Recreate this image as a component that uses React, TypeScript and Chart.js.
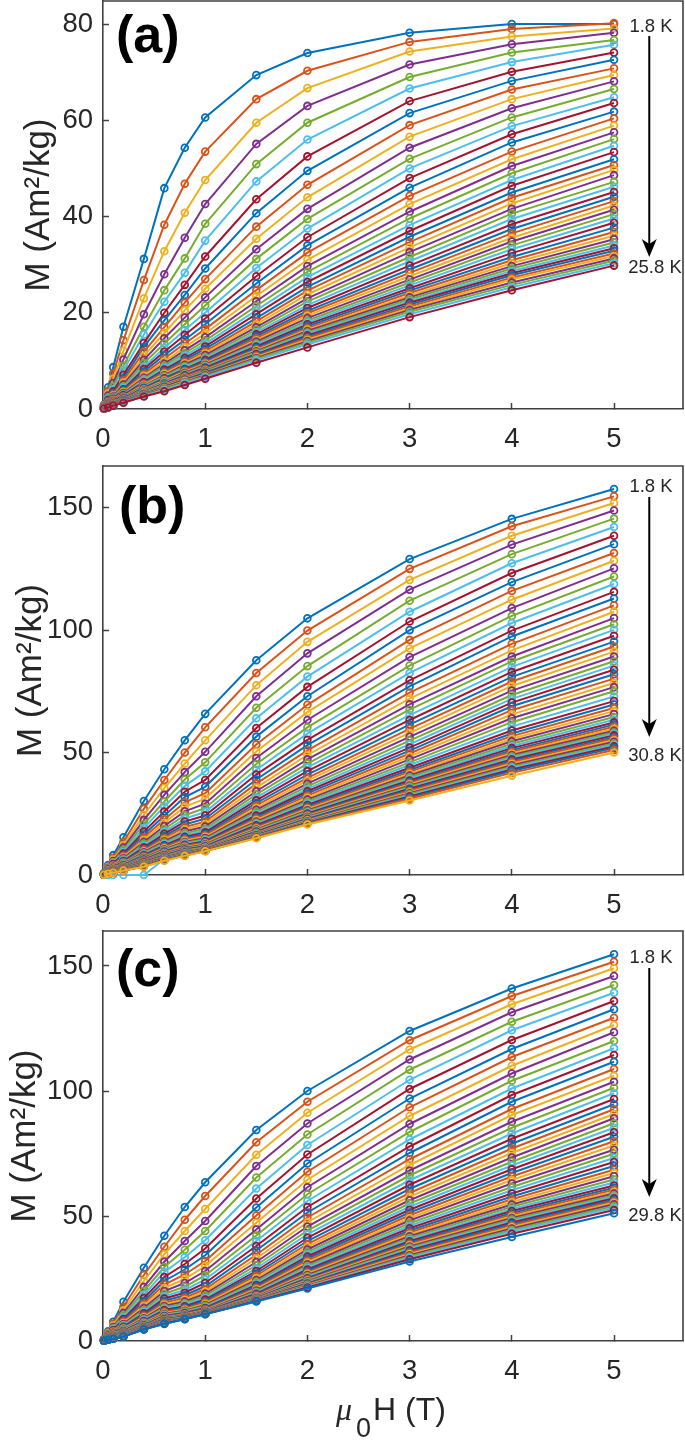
import React, { useEffect, useRef } from "react";
import { Chart, registerables } from "chart.js";

Chart.register(...registerables);

const fields = [0.01, 0.05, 0.1, 0.2, 0.4, 0.6, 0.8, 1, 1.5, 2, 3, 4, 5];
const xTickValues = [0, 1, 2, 3, 4, 5];
const yTicksA = [0, 20, 40, 60, 80];
const yTicksB = [0, 50, 100, 150];
const yTicksC = [0, 50, 100, 150];
const palette = ["#0072BD", "#D95319", "#EDB120", "#7E2F8E", "#77AC30", "#4DBEEE", "#A2142F"];

// Panel (a): 49 temperatures, one array per field, 7 per row
const A_H001 = [.9,.8,.7,.6,.5,.4,.4,
.4,.3,.3,.3,.3,.3,.2,
.2,.2,.2,.2,.2,.2,.2,
.2,.2,.1,.1,.1,.1,.1,
.1,.1,.1,.1,.1,.1,.1,
.1,.1,.1,.1,.1,.1,.1,
.1,.1,.1,.1,.1,.1,.1];
const A_H005 = [4.5,3.8,3.2,2.8,2.4,2.1,1.9,
1.7,1.5,1.4,1.3,1.2,1.1,1.1,
1.0,1.0,.9,.9,.8,.8,.7,
.7,.7,.6,.6,.6,.6,.6,
.5,.5,.5,.5,.5,.5,.5,
.4,.4,.4,.4,.4,.4,.4,
.4,.4,.4,.4,.3,.3,.3];
const A_H01 = [8.7,7.4,6.3,5.4,4.7,4.1,3.7,
3.3,3.0,2.8,2.6,2.4,2.2,2.1,
2.0,1.9,1.8,1.7,1.6,1.5,1.5,
1.4,1.3,1.3,1.2,1.2,1.1,1.1,
1.1,1.0,1.0,1.0,1.0,.9,.9,
.9,.9,.9,.8,.8,.8,.8,
.8,.8,.7,.7,.7,.7,.7];
const A_H02 = [17.1,14.3,12.1,10.3,9.0,8.0,7.1,
6.4,5.9,5.5,5.1,4.7,4.4,4.1,
3.9,3.7,3.5,3.3,3.1,3.0,2.9,
2.7,2.6,2.5,2.4,2.3,2.3,2.2,
2.1,2.1,2.0,2.0,1.9,1.9,1.8,
1.8,1.7,1.7,1.7,1.6,1.6,1.6,
1.5,1.5,1.5,1.5,1.4,1.4,1.3];
const A_H04 = [31.2,26.8,23.0,19.7,17.1,15.5,13.7,
12.9,11.9,11.0,10.2,9.5,8.8,8.3,
7.8,7.3,6.9,6.5,6.2,5.9,5.6,
5.4,5.2,5.0,4.8,4.7,4.5,4.4,
4.3,4.1,4.0,3.9,3.8,3.7,3.6,
3.5,3.5,3.4,3.3,3.3,3.2,3.1,
3.1,3.0,2.9,2.9,2.8,2.7,2.6];
const A_H06 = [45.9,38.3,32.8,28.0,24.7,22.3,20.0,
18.4,17.0,15.8,14.7,13.6,12.7,11.9,
11.2,10.5,9.9,9.4,9.0,8.6,8.2,
7.9,7.6,7.3,7.0,6.8,6.6,6.4,
6.2,6.0,5.9,5.7,5.6,5.5,5.3,
5.2,5.1,5.0,4.9,4.8,4.7,4.6,
4.5,4.4,4.3,4.2,4.1,3.9,3.7];
const A_H08 = [54.3,46.8,40.8,35.6,31.3,28.3,25.8,
23.7,22.1,20.5,19.0,17.6,16.4,15.4,
14.4,13.6,12.8,12.2,11.6,11.1,10.6,
10.2,9.8,9.5,9.2,8.9,8.6,8.3,
8.1,7.9,7.7,7.5,7.3,7.1,7.0,
6.8,6.7,6.5,6.4,6.3,6.2,6.1,
6.0,5.9,5.8,5.6,5.5,5.3,5.0];
const A_H1 = [60.6,53.5,47.6,42.6,38.5,35.0,31.7,
29.2,27.0,25.0,23.2,21.5,20.0,18.8,
17.6,16.6,15.7,14.9,14.2,13.6,13.0,
12.5,12.0,11.6,11.2,10.8,10.5,10.2,
9.9,9.6,9.4,9.2,9.0,8.8,8.6,
8.4,8.2,8.0,7.9,7.8,7.6,7.5,
7.4,7.2,7.1,7.0,6.8,6.6,6.3];
const A_H15 = [69.4,64.4,59.5,55.1,50.9,47.3,43.6,
40.7,37.9,35.4,33.2,31.2,29.3,27.6,
26.1,24.7,23.5,22.4,21.4,20.5,19.7,
18.9,18.2,17.6,17.0,16.5,16.0,15.5,
15.1,14.7,14.3,14.0,13.6,13.3,13.0,
12.7,12.4,12.2,12.0,11.8,11.6,11.4,
11.2,11.0,10.8,10.6,10.4,10.1,9.6];
const A_H2 = [74.0,70.3,66.7,63.0,59.5,56.0,52.5,
49.5,46.6,44.0,41.6,39.5,37.5,35.7,
34.0,32.5,31.0,29.7,28.5,27.4,26.4,
25.4,24.6,23.8,23.0,22.3,21.6,21.0,
20.4,19.9,19.4,18.9,18.4,18.0,17.6,
17.2,16.8,16.5,16.2,15.9,15.6,15.3,
15.0,14.7,14.4,14.1,13.8,13.4,12.8];
const A_H3 = [78.2,76.3,74.3,71.6,69.0,66.6,64.0,
61.5,59.0,56.6,54.3,52.0,50.0,48.0,
46.0,44.3,42.6,41.0,39.6,38.2,37.0,
35.8,34.7,33.6,32.6,31.6,30.7,29.8,
29.0,28.3,27.6,26.9,26.3,25.7,25.1,
24.6,24.1,23.6,23.2,22.8,22.4,22.1,
21.7,21.3,20.9,20.6,20.2,19.7,19.1];
const A_H4 = [80.0,79.0,77.4,75.8,74.1,72.1,70.1,
68.2,66.4,64.4,62.5,60.6,58.8,57.1,
55.4,53.5,51.9,50.5,49.0,47.6,46.4,
45.0,43.9,42.7,41.6,40.6,39.5,38.4,
37.4,36.5,35.6,34.8,34.0,33.2,32.4,
31.6,30.9,30.3,29.7,29.2,28.7,28.2,
27.8,27.3,26.9,26.3,25.8,25.3,24.7];
const A_H5 = [80.0,80.2,79.1,78.2,76.7,75.7,74.1,
72.6,70.8,69.4,68.1,66.5,64.8,63.6,
61.8,60.4,58.9,57.5,56.1,54.7,53.4,
51.9,50.7,49.7,48.6,47.2,46.2,45.1,
44.1,43.2,42.3,41.4,40.5,39.6,38.7,
37.7,36.8,36.0,35.3,34.6,34.0,33.4,
32.9,32.3,31.8,31.3,30.8,30.3,29.8];

// Panel (b): 59 temperatures
const B_H001 = [.8,.7,.6,.6,.5,.5,.5,
.4,.4,.4,.3,.3,.3,.3,
.3,.3,.3,.2,.2,.2,.2,
.2,.2,.2,.2,.2,.2,.2,
.2,.2,.1,.1,.1,.1,.1,
.1,.1,.1,.1,.1,.1,.1,
.1,.1,.1,.1,.1,.1,.1,
.1,.1,.1,.1,.1,0,.1,
.1,.1,.1];
const B_H005 = [4.1,3.5,3.2,2.9,2.6,2.4,2.3,
2.1,2.0,1.9,1.7,1.6,1.6,1.5,
1.4,1.3,1.3,1.2,1.1,1.1,1.0,
1.0,1.0,.9,.9,.9,.8,.8,
.8,.8,.7,.7,.7,.7,.7,
.7,.7,.6,.6,.6,.6,.6,
.6,.6,.6,.6,.5,.5,.5,
.5,.5,.5,.5,.5,0,.5,
.5,.5,.5];
const B_H01 = [8.1,7.0,6.3,5.7,5.2,4.8,4.5,
4.2,3.9,3.7,3.4,3.2,3.1,2.9,
2.7,2.6,2.5,2.3,2.2,2.1,2.0,
2.0,1.9,1.8,1.8,1.7,1.6,1.6,
1.5,1.5,1.4,1.4,1.4,1.3,1.3,
1.3,1.3,1.2,1.2,1.2,1.2,1.1,
1.1,1.1,1.1,1.1,1.0,1.0,1.0,
1.0,1.0,1.0,1.0,1.0,0,.9,
.9,.9,.9];
const B_H02 = [15.4,13.5,12.2,11.2,10.3,9.5,8.8,
8.2,7.7,7.2,6.8,6.4,6.0,5.7,
5.4,5.1,4.9,4.6,4.4,4.2,4.0,
3.9,3.7,3.6,3.5,3.3,3.2,3.1,
3.0,2.9,2.9,2.8,2.7,2.7,2.6,
2.5,2.5,2.4,2.4,2.3,2.3,2.2,
2.2,2.2,2.1,2.1,2.1,2.0,2.0,
2.0,2.0,1.9,1.9,1.9,0,1.9,
1.8,1.8,1.8];
const B_H04 = [30.2,27.0,24.5,22.5,20.8,19.2,17.7,
16.5,15.4,14.4,13.5,12.7,12.0,11.3,
10.7,10.2,9.7,9.3,8.9,8.5,8.1,
7.8,7.5,7.2,7.0,6.7,6.5,6.3,
6.1,5.9,5.7,5.6,5.4,5.3,5.2,
5.0,4.9,4.8,4.7,4.6,4.5,4.4,
4.3,4.2,4.2,4.1,4.0,4.0,3.9,
3.9,3.8,3.8,3.7,3.7,0,3.6,
3.5,3.5,3.4];
const B_H06 = [43.2,38.8,35.5,32.7,30.0,28.0,25.9,
24.2,22.7,21.3,20.0,18.8,17.7,16.8,
15.9,15.1,14.4,13.8,13.2,12.6,12.1,
11.7,11.3,10.9,10.5,10.2,9.9,9.6,
9.3,9.1,8.9,8.7,8.5,8.3,8.1,
7.9,7.8,7.6,7.5,7.4,7.3,7.2,
7.1,7.0,6.9,6.8,6.8,6.7,6.6,
6.6,6.5,6.4,6.4,6.3,6.5,6.2,
6.1,6.0,5.8];
const B_H08 = [55.0,50.0,45.5,42.0,39.0,36.3,34.0,
31.8,29.7,27.8,26.0,24.4,23.0,21.8,
20.6,19.6,18.7,17.8,17.0,16.3,15.6,
15.0,14.5,14.0,13.5,13.1,12.7,12.3,
12.0,11.7,11.4,11.1,10.8,10.6,10.4,
10.2,10.0,9.8,9.6,9.5,9.3,9.2,
9.1,9.0,8.9,8.8,8.7,8.6,8.5,
8.4,8.4,8.3,8.3,8.2,8.2,8.1,
8.1,8.0,7.8];
const B_H1 = [65.8,60.3,55.0,50.3,46.0,42.3,38.8,
36.0,33.4,31.2,29.1,27.3,25.7,24.3,
23.0,21.8,20.8,19.8,18.9,18.1,17.4,
16.7,16.1,15.6,15.1,14.6,14.2,13.8,
13.4,13.1,12.8,12.5,12.2,11.9,11.7,
11.5,11.3,11.1,10.9,10.8,10.7,10.6,
10.5,10.4,10.4,10.3,10.3,10.2,10.2,
10.1,10.1,10.0,10.0,9.9,9.9,9.9,
9.8,9.8,9.7];
const B_H15 = [87.7,82.5,77.5,73.0,68.3,64.0,60.0,
56.5,53.3,50.4,47.8,45.3,43.0,41.0,
39.0,37.3,35.7,34.2,32.9,31.6,30.5,
29.4,28.4,27.4,26.6,25.8,25.0,24.3,
23.6,23.0,22.4,21.8,21.3,20.8,20.3,
19.8,19.4,19.0,18.6,18.3,18.0,17.7,
17.4,17.2,17.0,16.8,16.6,16.4,16.2,
16.1,15.9,15.8,15.7,15.6,15.5,15.4,
15.3,15.2,15.0];
const B_H2 = [104.8,99.8,95.2,90.5,85.3,81.0,76.8,
73.0,69.5,66.5,63.3,60.3,57.7,55.2,
53.0,50.9,49.0,47.2,45.5,43.9,42.4,
41.0,39.7,38.5,37.3,36.2,35.2,34.2,
33.3,32.4,31.6,30.8,30.0,29.3,28.6,
28.0,27.4,26.9,26.4,25.9,25.5,25.1,
24.7,24.4,24.1,23.8,23.5,23.2,22.9,
22.7,22.4,22.2,21.9,21.7,21.5,21.3,
21.1,20.9,20.6];
const B_H3 = [129.0,125.0,120.5,116.5,112.0,107.5,103.5,
100.0,96.0,92.5,89.0,85.5,82.5,79.5,
77.0,74.5,72.0,69.7,67.5,65.3,63.3,
61.4,59.7,58.0,56.4,54.9,53.4,52.0,
50.8,49.6,48.4,47.2,46.0,44.9,43.8,
42.9,42.1,41.3,40.6,39.9,39.2,38.6,
38.0,37.5,37.0,36.5,36.1,35.6,35.2,
34.7,34.3,33.8,33.4,33.0,32.5,32.1,
31.6,31.1,30.4];
const B_H4 = [145.4,142.4,138.5,134.9,131.0,127.3,123.3,
119.6,116.0,112.4,109.0,105.8,102.9,99.8,
97.4,94.4,91.7,89.2,87.2,85.0,82.9,
80.9,79.0,77.2,75.3,73.5,71.9,70.4,
68.9,67.3,65.6,64.0,62.4,60.6,59.0,
57.8,56.7,55.6,54.6,53.6,52.7,51.8,
51.0,50.3,49.6,49.0,48.4,47.8,47.2,
46.6,46.0,45.4,44.8,44.2,43.7,43.1,
42.5,41.7,40.5];
const B_H5 = [157.6,154.6,151.9,148.8,145.5,142.1,138.5,
135.1,131.5,128.3,125.2,121.9,118.8,115.6,
112.9,110.1,107.5,104.9,102.4,100.1,97.7,
95.3,93.3,91.2,89.2,87.3,85.5,83.8,
82.0,80.2,78.4,76.7,75.0,72.9,71.0,
69.6,68.2,66.9,65.7,64.5,63.4,62.3,
61.4,60.5,59.7,58.9,58.2,57.6,57.0,
56.3,55.7,55.0,54.4,53.7,53.1,52.5,
51.8,51.0,50.0];

// Panel (c): 57 temperatures
const C_H001 = [.8,.7,.6,.6,.5,.5,.5,
.4,.4,.4,.3,.3,.3,.3,
.3,.3,.3,.2,.2,.2,.2,
.2,.2,.2,.2,.2,.2,.2,
.2,.2,.1,.1,.1,.1,.1,
.1,.1,.1,.1,.1,.1,.1,
.1,.1,.1,.1,.1,.1,.1,
.1,.1,.1,.1,.1,.1,.1,
.1];
const C_H005 = [3.9,3.4,3.1,2.8,2.6,2.4,2.2,
2.1,2.0,1.8,1.7,1.6,1.5,1.5,
1.4,1.3,1.3,1.2,1.1,1.1,1.0,
1.0,1.0,.9,.9,.9,.8,.8,
.8,.8,.7,.7,.7,.7,.7,
.7,.7,.6,.6,.6,.6,.6,
.6,.6,.6,.6,.5,.5,.5,
.5,.5,.5,.5,.5,.5,.5,
.5];
const C_H01 = [7.7,6.9,6.2,5.6,5.1,4.8,4.4,
4.1,3.9,3.6,3.4,3.2,3.0,2.9,
2.7,2.6,2.5,2.3,2.2,2.1,2.0,
2.0,1.9,1.8,1.8,1.7,1.6,1.6,
1.5,1.5,1.4,1.4,1.4,1.3,1.3,
1.3,1.3,1.2,1.2,1.2,1.2,1.1,
1.1,1.1,1.1,1.1,1.0,1.0,1.0,
1.0,1.0,1.0,1.0,1.0,.9,.9,
.9];
const C_H02 = [15.7,13.7,12.3,11.2,10.3,9.5,8.8,
8.2,7.7,7.2,6.8,6.4,6.0,5.7,
5.4,5.1,4.9,4.6,4.4,4.2,4.0,
3.9,3.7,3.6,3.5,3.3,3.2,3.1,
3.0,2.9,2.9,2.8,2.7,2.7,2.6,
2.5,2.5,2.4,2.4,2.3,2.3,2.2,
2.2,2.2,2.1,2.1,2.1,2.0,2.0,
2.0,2.0,1.9,1.9,1.9,1.9,1.8,
1.8];
const C_H04 = [29.3,26.4,24.0,21.7,20.0,18.5,17.2,
16.0,15.0,14.1,13.2,12.4,11.7,11.1,
10.5,10.0,9.5,9.1,8.7,8.4,8.0,
7.7,7.4,7.2,6.9,6.7,6.5,6.3,
6.2,6.0,5.9,5.8,5.7,5.6,5.5,
5.4,5.3,5.2,5.2,5.1,5.1,5.0,
5.0,5.0,4.9,4.9,4.9,4.9,4.8,
4.8,4.8,4.8,4.8,4.7,4.7,4.7,
4.6];
const C_H06 = [42.1,37.7,34.7,31.7,29.6,27.6,25.6,
24.0,22.6,21.2,20.0,18.9,17.9,17.0,
16.1,15.3,14.6,14.0,13.4,12.9,12.4,
12.0,11.6,11.2,10.9,10.6,10.3,10.0,
9.8,9.6,9.4,9.2,9.0,8.8,8.7,
8.5,8.4,8.3,8.2,8.1,8.0,7.9,
7.8,7.7,7.6,7.6,7.5,7.5,7.4,
7.3,7.3,7.2,7.2,7.1,7.1,7.0,
6.8];
const C_H08 = [53.6,48.5,44.0,40.0,36.5,33.5,30.8,
28.6,26.6,24.8,23.2,21.7,20.4,19.3,
18.3,17.3,16.5,15.8,15.1,14.5,13.9,
13.4,12.9,12.5,12.1,11.8,11.5,11.2,
10.9,10.7,10.5,10.3,10.1,9.9,9.8,
9.7,9.6,9.5,9.4,9.3,9.3,9.2,
9.2,9.1,9.1,9.1,9.0,9.0,9.0,
9.0,8.9,8.9,8.9,8.9,8.8,8.8,
8.7];
const C_H1 = [63.5,58.0,52.8,48.0,44.0,40.3,37.0,
34.3,32.0,30.0,28.0,26.2,24.6,23.2,
21.9,20.8,19.8,18.9,18.1,17.3,16.6,
16.0,15.4,14.9,14.4,14.0,13.6,13.2,
12.9,12.6,12.3,12.1,11.9,11.8,11.7,
11.6,11.5,11.4,11.4,11.3,11.3,11.2,
11.2,11.1,11.1,11.1,11.0,11.0,11.0,
10.9,10.9,10.9,10.9,10.8,10.8,10.8,
10.7];
const C_H15 = [84.4,79.5,74.5,70.0,65.4,61.0,57.0,
53.4,50.2,47.3,44.6,42.2,40.0,38.0,
36.2,34.5,33.0,31.6,30.3,29.1,28.0,
27.0,26.1,25.2,24.4,23.7,23.0,22.4,
21.8,21.2,20.7,20.2,19.7,19.3,18.9,
18.5,18.2,17.9,17.7,17.5,17.3,17.1,
17.0,16.9,16.8,16.7,16.6,16.5,16.4,
16.3,16.3,16.2,16.2,16.1,16.1,16.0,
15.8];
const C_H2 = [100.0,95.7,91.3,87.0,82.6,78.4,74.6,
71.0,67.7,64.5,61.5,58.7,56.0,53.6,
51.4,49.4,47.5,45.8,44.2,42.7,41.3,
40.0,38.8,37.7,36.6,35.6,34.7,33.8,
33.0,32.2,31.4,30.7,30.0,29.3,28.6,
28.0,27.4,26.9,26.4,25.9,25.5,25.1,
24.8,24.5,24.2,23.9,23.6,23.3,23.0,
22.8,22.6,22.3,22.1,21.9,21.7,21.4,
21.0];
const C_H3 = [124.0,120.3,116.6,112.6,108.5,104.5,100.8,
97.0,93.5,90.0,86.8,83.6,80.6,77.8,
75.2,72.7,70.4,68.2,66.2,64.3,62.5,
60.8,59.2,57.7,56.3,55.0,53.7,52.5,
51.4,50.3,49.2,48.2,47.1,46.1,45.1,
44.2,43.4,42.6,41.9,41.2,40.5,39.9,
39.3,38.8,38.3,37.8,37.3,36.8,36.3,
35.8,35.3,34.8,34.3,33.8,33.3,32.7,
31.8];
const C_H4 = [141.0,138.0,134.7,131.5,127.7,124.3,120.4,
116.8,113.6,110.1,107.0,104.1,101.0,98.4,
95.7,92.8,90.4,87.7,85.3,83.0,80.9,
78.9,77.0,75.2,73.4,71.7,70.2,68.7,
67.2,65.8,64.4,63.0,61.6,60.3,59.0,
57.8,56.7,55.6,54.6,53.7,52.8,52.0,
51.2,50.5,49.8,49.2,48.6,48.0,47.4,
46.8,46.2,45.6,45.0,44.4,43.8,42.9,
41.6];
const C_H5 = [154.7,151.7,149.1,146.0,142.4,139.3,136.0,
132.7,129.3,126.4,123.5,120.0,117.1,114.4,
111.7,108.8,106.1,103.7,101.3,99.1,96.8,
94.7,92.7,90.8,89.1,87.1,85.3,83.5,
81.7,79.9,78.2,76.5,74.9,73.2,71.6,
70.0,68.5,67.2,65.9,64.6,63.4,62.2,
61.3,60.5,59.7,59.0,58.3,57.7,57.1,
56.5,55.9,55.3,54.7,54.0,53.3,52.4,
51.1];

const columnsA = [A_H001, A_H005, A_H01, A_H02, A_H04, A_H06, A_H08, A_H1, A_H15, A_H2, A_H3, A_H4, A_H5];
const columnsB = [B_H001, B_H005, B_H01, B_H02, B_H04, B_H06, B_H08, B_H1, B_H15, B_H2, B_H3, B_H4, B_H5];
const columnsC = [C_H001, C_H005, C_H01, C_H02, C_H04, C_H06, C_H08, C_H1, C_H15, C_H2, C_H3, C_H4, C_H5];

const INK = "#262626";
const AXIS = "#404040";
const SANS = '"Liberation Sans", Arial, sans-serif';
const X_MAX = 5.675;

const panels = [
  { letter: "(a)", columns: columnsA, yTicks: yTicksA, yMax: 84.8, top: 0, height: 460, padTop: 1, axisH: 51,
    hot: "1.8 K", cold: "25.8 K", hotY: 32, coldY: 273, arrowTop: 36, arrowTip: 257, letterX: 116, letterY: 52, titlePad: 18, xLabel: false },
  { letter: "(b)", columns: columnsB, yTicks: yTicksB, yMax: 167, top: 460, height: 465, padTop: 6, axisH: 50,
    hot: "1.8 K", cold: "30.8 K", hotY: 32, coldY: 301, arrowTop: 37, arrowTip: 277, letterX: 119, letterY: 63, titlePad: 10.5, xLabel: false },
  { letter: "(c)", columns: columnsC, yTicks: yTicksC, yMax: 164, top: 925, height: 515, padTop: 6, axisH: 99,
    hot: "1.8 K", cold: "29.8 K", hotY: 38, coldY: 296, arrowTop: 43, arrowTip: 272, letterX: 116, letterY: 61, titlePad: 4.5, xLabel: true },
];

function Panel({ p }: { p: (typeof panels)[number] }) {
  const ref = useRef<HTMLCanvasElement>(null);
  useEffect(() => {
    const count = p.columns[0].length;
    const datasets = Array.from({ length: count }, (_, i) => {
      const color = palette[i % palette.length];
      return {
        label: "curve " + (i + 1),
        data: fields.map((h, j) => ({ x: h, y: p.columns[j][i] })),
        borderColor: color,
        backgroundColor: "transparent",
        borderWidth: 2,
        pointRadius: 3.4,
        pointBorderWidth: 1.8,
        pointBorderColor: color,
        pointBackgroundColor: "transparent",
        tension: 0,
        clip: false as any,
        order: -i,
      };
    });
    const decor = {
      id: "decor",
      afterDraw(chart: any) {
        const { ctx, chartArea: a, scales } = chart;
        ctx.save();
        ctx.strokeStyle = AXIS;
        ctx.lineWidth = 1.6;
        ctx.beginPath();
        ctx.moveTo(a.left, a.top);
        ctx.lineTo(a.right, a.top);
        ctx.lineTo(a.right, a.bottom);
        ctx.stroke();

        const ax = scales.x.getPixelForValue(5.345);
        ctx.strokeStyle = "#000";
        ctx.lineWidth = 2;
        ctx.beginPath();
        ctx.moveTo(ax, p.arrowTop);
        ctx.lineTo(ax, p.arrowTip - 10);
        ctx.stroke();
        ctx.fillStyle = "#000";
        ctx.beginPath();
        ctx.moveTo(ax, p.arrowTip);
        ctx.lineTo(ax - 7.5, p.arrowTip - 18);
        ctx.lineTo(ax, p.arrowTip - 13);
        ctx.lineTo(ax + 7.5, p.arrowTip - 18);
        ctx.closePath();
        ctx.fill();

        ctx.fillStyle = INK;
        ctx.textAlign = "center";
        ctx.textBaseline = "alphabetic";
        ctx.font = "18.5px " + SANS;
        ctx.fillText(p.hot, 651, p.hotY);
        ctx.fillText(p.cold, 655, p.coldY);

        ctx.fillStyle = "#000";
        ctx.textAlign = "left";
        ctx.font = "bold 52px " + SANS;
        ctx.fillText(p.letter, p.letterX, p.letterY);

        if (p.xLabel) {
          ctx.fillStyle = INK;
          ctx.font = 'italic 32px "Liberation Serif", serif';
          ctx.fillText("\u03BC", 336, 495);
          ctx.font = "27px " + SANS;
          ctx.fillText("0", 356, 512);
          ctx.font = "32px " + SANS;
          ctx.fillText("H (T)", 373, 495);
        }
        ctx.restore();
      },
    };
    const chart = new Chart(ref.current!, {
      type: "line",
      data: { datasets: datasets as any },
      plugins: [decor],
      options: {
        animation: false,
        responsive: false,
        devicePixelRatio: 1,
        layout: { autoPadding: false, padding: { top: p.padTop, right: 2, left: 0, bottom: 0 } },
        plugins: { legend: { display: false }, tooltip: { enabled: false }, title: { display: false } },
        scales: {
          x: {
            type: "linear",
            min: 0,
            max: X_MAX,
            afterBuildTicks: (s: any) => { s.ticks = xTickValues.map((value) => ({ value })); },
            afterFit: (s: any) => { s.height = p.axisH; s.paddingLeft = 0; s.paddingRight = 0; },
            grid: { drawOnChartArea: false, drawTicks: true, tickLength: -6, tickColor: AXIS, tickWidth: 1.5 },
            border: { display: true, color: AXIS, width: 1.6 },
            ticks: { color: INK, font: { family: SANS, size: 27.5 }, padding: 20, maxRotation: 0, autoSkip: false },
          },
          y: {
            type: "linear",
            min: 0,
            max: p.yMax,
            afterBuildTicks: (s: any) => { s.ticks = p.yTicks.map((value) => ({ value })); },
            afterFit: (s: any) => { s.width = 103; s.paddingTop = 0; s.paddingBottom = 0; },
            grid: { drawOnChartArea: false, drawTicks: true, tickLength: -6, tickColor: AXIS, tickWidth: 1.5 },
            border: { display: true, color: AXIS, width: 1.6 },
            ticks: { color: INK, font: { family: SANS, size: 27.5 }, padding: 16, autoSkip: false },
            title: { display: true, text: "M (Am\u00B2/kg)", color: INK, font: { family: SANS, size: 35 }, padding: { top: p.titlePad, bottom: 0 } },
          },
        },
      } as any,
    });
    return () => chart.destroy();
  }, [p]);
  return (
    <canvas
      ref={ref}
      width={685}
      height={p.height}
      style={{ position: "absolute", left: 0, top: p.top, width: 685, height: p.height, display: "block" }}
    />
  );
}

export default function App() {
  return (
    <div style={{ position: "absolute", left: 0, top: 0, width: 685, height: 1440, background: "#fff", overflow: "hidden" }}>
      {panels.map((p) => (
        <Panel key={p.letter} p={p} />
      ))}
    </div>
  );
}
